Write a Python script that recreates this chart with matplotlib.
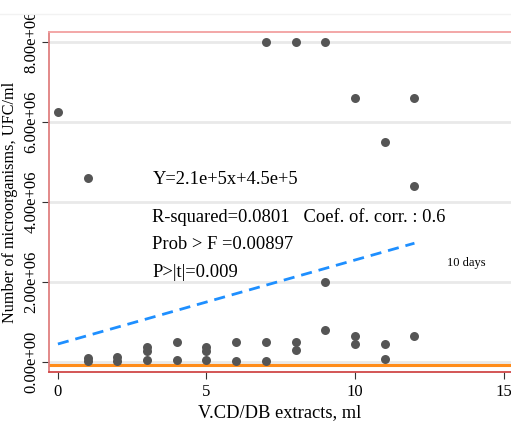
"""
Scatter of microorganism counts vs V.CD/DB extract volume (10 days)
"""
import numpy as np
import matplotlib
matplotlib.use("Agg")
import matplotlib.pyplot as plt
from matplotlib.patches import Rectangle

plt.rcParams['font.family'] = ['Liberation Serif', 'DejaVu Serif']

# raw data
volume_ml = [0, 1, 1, 1, 2, 2, 3, 3, 3, 4, 4, 5, 5, 5, 6, 6,
             7, 7, 7, 8, 8, 8, 9, 9, 9, 10, 10, 10, 11, 11, 11, 12, 12, 12]
counts_ufc = [6.25e6, 4.6e6, 0.1e6, 0.02e6, 0.12e6, 0.03e6, 0.38e6, 0.28e6, 0.05e6,
              0.5e6, 0.05e6, 0.38e6, 0.28e6, 0.04e6, 0.5e6, 0.02e6,
              8.0e6, 0.5e6, 0.03e6, 8.0e6, 0.5e6, 0.3e6, 8.0e6, 2.0e6, 0.8e6,
              6.6e6, 0.65e6, 0.45e6, 5.5e6, 0.45e6, 0.07e6, 6.6e6, 4.4e6, 0.65e6]

# fitted model Y = a*x + b
slope = 2.1e5
intercept = 4.5e5
fit_range = [0, 12]
baseline = -0.08e6

y_ticks = [0, 2e6, 4e6, 6e6, 8e6]
y_tick_labels = ['0.00e+00', '2.00e+06', '4.00e+06', '6.00e+06', '8.00e+06']
x_ticks = [0, 5, 10, 15]

stats_lines = ['R-squared=0.0801   Coef. of. corr. : 0.6',
               'Prob > F =0.00897',
               'P>|t|=0.009']

fig = plt.figure(figsize=(5.11, 4.22), dpi=100)
ax = fig.add_axes([49 / 511, 1 - 372 / 422, 1 - 49 / 511, (372 - 32) / 422])

ax.set_xlim(-0.3, 15.25)
ax.set_ylim(-0.25e6, 8.25e6)

# grid
for yt in y_ticks:
    ax.axhline(yt, color='#e9e9e9', lw=2, zorder=0)

ax.axhline(baseline, color='#ff8c1a', lw=2.2, zorder=1)

ax.scatter(volume_ml, counts_ufc, s=42, color='#555555', zorder=3, linewidths=0)

xf = np.array(fit_range, dtype=float)
ax.plot(xf, slope * xf + intercept, color='#1e8fff', lw=2, ls=(0, (4, 2.5)), zorder=2)

# annotations
ax.text(3.18, 4.55e6, 'Y=2.1e+5x+4.5e+5', fontsize=13.3, va='center', ha='left')
for i, txt in enumerate(stats_lines):
    ax.text(3.18, 3.62e6 - i * 0.69e6, txt, fontsize=13.3, va='center', ha='left')
ax.text(13.1, 2.48e6, '10 days', fontsize=9, va='center', ha='left')

# spines
ax.spines['right'].set_visible(False)
ax.spines['top'].set_color('#f2a0a0')
ax.spines['left'].set_color('#e08080')
ax.spines['bottom'].set_color('#d04848')
for sp in ['top', 'left', 'bottom']:
    ax.spines[sp].set_linewidth(1.3)

ax.set_yticks(y_ticks)
ax.set_yticklabels(y_tick_labels, rotation=90, va='center', fontsize=12)
ax.set_xticks(x_ticks)
ax.set_xticklabels([str(t) for t in x_ticks], fontsize=12)
ax.tick_params(axis='both', color='#333333', length=5, width=0.8)
ax.tick_params(axis='y', pad=2)

ax.set_ylabel('Number of microorganisms, UFC/ml', fontsize=11.7)
ax.yaxis.set_label_coords(-0.067, 0.5)
ax.set_xlabel('V.CD/DB extracts, ml', fontsize=13.3, labelpad=3)

# the source image is cropped at the top edge
fig.add_artist(Rectangle((0, 1 - 14 / 422), 1, 14 / 422, transform=fig.transFigure,
                         facecolor='white', edgecolor='none', zorder=10))
fig.add_artist(plt.Line2D([0, 1], [1 - 14 / 422] * 2, transform=fig.transFigure,
                          color='#f2f2f2', lw=1, zorder=11))

fig.savefig('out.png', dpi=100)
